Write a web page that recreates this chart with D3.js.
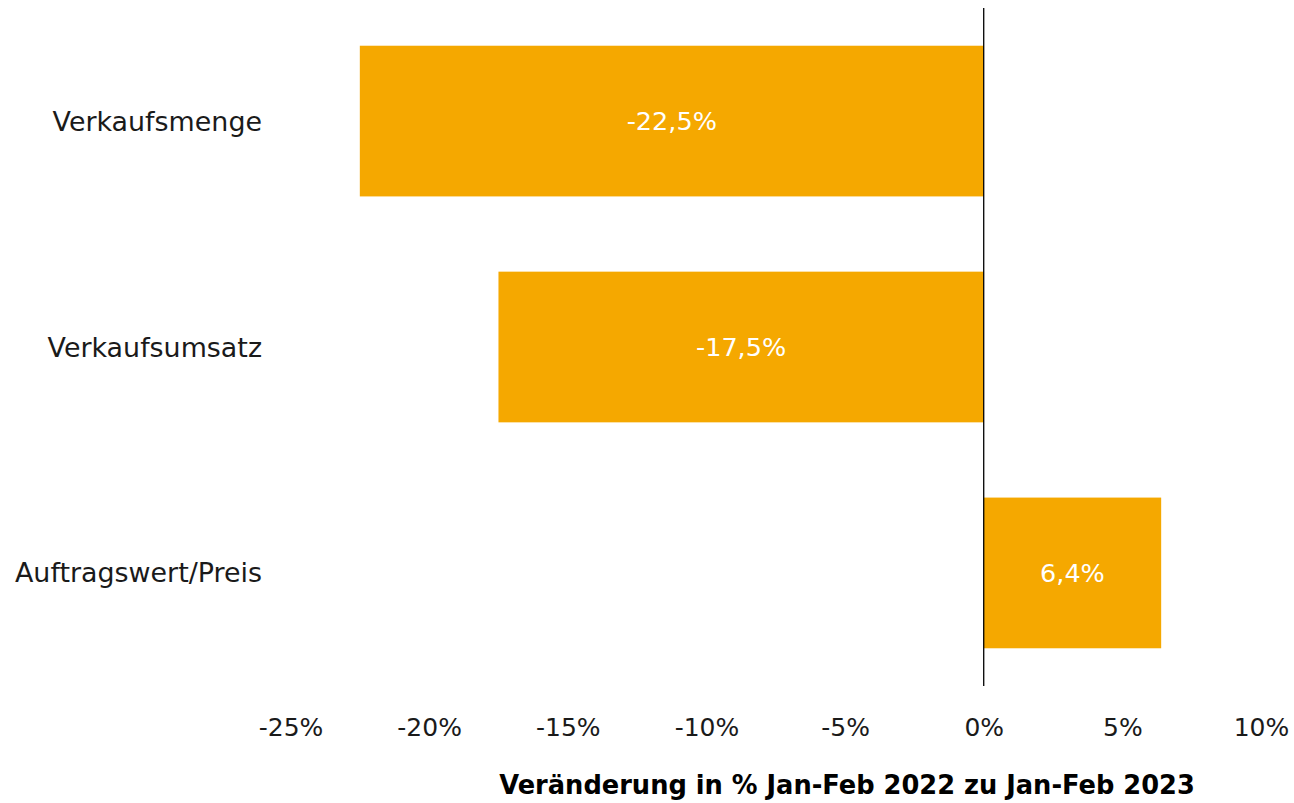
<!DOCTYPE html>
<html>
<head>
<meta charset="utf-8">
<script src="https://cdn.jsdelivr.net/npm/d3@7"></script>
<style>
  body { margin: 0; background: #fff; }
  svg text { font-family: "DejaVu Sans", sans-serif; }
</style>
</head>
<body>
<div id="chart"></div>
<script>
// data
var categories = ["Verkaufsmenge", "Verkaufsumsatz", "Auftragswert/Preis"];
var values = [-22.5, -17.5, 6.4];
var valueLabels = ["-22,5%", "-17,5%", "6,4%"];
var tickValues = [-25, -20, -15, -10, -5, 0, 5, 10];
var axisTitle = "Veränderung in % Jan-Feb 2022 zu Jan-Feb 2023";

var width = 1294, height = 803;
var barColor = "#F5A800";
var fontStack = "'DejaVu Sans', sans-serif";

var svg = d3.select("#chart").append("svg")
    .attr("width", width)
    .attr("height", height);

var x = d3.scaleLinear()
    .domain([-25, 10])
    .range([290.5, 1261]);

var y = d3.scaleBand()
    .domain(categories)
    .range([8, 686])
    .paddingInner(0.333)
    .paddingOuter(0.167);

var rows = categories.map(function(c, i){
    return {cat: c, val: values[i], label: valueLabels[i]};
});

// bars
svg.selectAll("rect.bar")
    .data(rows)
    .enter()
    .append("rect")
      .attr("class", "bar")
      .attr("x", function(d){ return x(Math.min(0, d.val)); })
      .attr("y", function(d){ return y(d.cat); })
      .attr("width", function(d){ return Math.abs(x(d.val) - x(0)); })
      .attr("height", y.bandwidth())
      .style("fill", barColor);

// value labels inside bars
svg.selectAll("text.val")
    .data(rows)
    .enter()
    .append("text")
      .attr("class", "val")
      .attr("x", function(d){ return (x(d.val) + x(0)) / 2; })
      .attr("y", function(d){ return y(d.cat) + y.bandwidth() / 2; })
      .attr("text-anchor", "middle")
      .attr("dominant-baseline", "central")
      .style("font-size", "25.5px")
      .style("fill", "#fff")
      .text(function(d){ return d.label; });

// zero line
svg.append("line")
    .attr("x1", x(0)).attr("x2", x(0))
    .attr("y1", 8).attr("y2", 686)
    .style("stroke", "#000")
    .style("stroke-width", 1.3);

// category labels
svg.selectAll("text.cat")
    .data(categories)
    .enter()
    .append("text")
      .attr("class", "cat")
      .attr("x", 262)
      .attr("y", function(d){ return y(d) + y.bandwidth() / 2; })
      .attr("text-anchor", "end")
      .attr("dominant-baseline", "central")
      .style("font-size", "26.9px")
      .style("fill", "#1a1a1a")
      .text(function(d){ return d; });

// x axis, tick labels only
var xAxis = d3.axisBottom(x)
    .tickValues(tickValues)
    .tickSize(0)
    .tickPadding(0)
    .tickFormat(function(d){ return d + "%"; });

var gx = svg.append("g")
    .attr("transform", "translate(0,727)")
    .call(xAxis);
gx.select(".domain").remove();
gx.selectAll("text")
    .attr("dy", null)
    .attr("y", 0)
    .attr("dominant-baseline", "central")
    .style("font-family", fontStack)
    .style("font-size", "25px")
    .style("fill", "#1a1a1a");

// axis title
svg.append("text")
    .attr("x", 847)
    .attr("y", 785)
    .attr("text-anchor", "middle")
    .attr("dominant-baseline", "central")
    .style("font-size", "25.7px")
    .style("font-weight", "bold")
    .style("fill", "#000")
    .text(axisTitle);
</script>
</body>
</html>
